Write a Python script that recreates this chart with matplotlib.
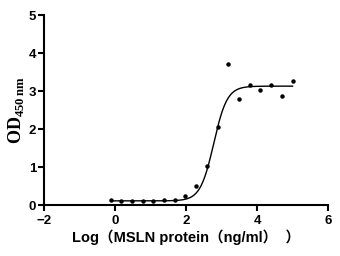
import numpy as np
import matplotlib
matplotlib.use("Agg")
import matplotlib.pyplot as plt

# measured points: log10 concentration vs OD450
log_conc = [-0.12, 0.18, 0.48, 0.78, 1.08, 1.38, 1.68, 1.98, 2.29, 2.59,
            2.89, 3.19, 3.49, 3.79, 4.09, 4.39, 4.70, 5.00]
od450 = [0.12, 0.11, 0.10, 0.10, 0.10, 0.12, 0.13, 0.24, 0.51, 1.02,
         2.06, 3.71, 2.80, 3.15, 3.03, 3.15, 2.88, 3.26]

# 4PL fit parameters
bottom = 0.11
top = 3.13
log_ec50 = 2.78
hill = 2.3

xticks = [-2, 0, 2, 4, 6]
yticks = [0, 1, 2, 3, 4, 5]

plt.rcParams["mathtext.fontset"] = "custom"
plt.rcParams["mathtext.rm"] = "Liberation Serif:bold"
plt.rcParams["mathtext.bf"] = "Liberation Serif:bold"

fig = plt.figure(figsize=(3.4, 2.56), dpi=100)
ax = fig.add_axes([0.129, 0.199, 0.836, 0.742])

xs = np.linspace(min(log_conc), max(log_conc), 300)
fit = bottom + (top - bottom) / (1 + 10 ** ((log_ec50 - xs) * hill))
ax.plot(xs, fit, color="black", lw=1.0)
ax.plot(log_conc, od450, "o", color="black", ms=3.2, mew=0)

ax.set_xlim(-2, 6)
ax.set_ylim(0, 5)
ax.set_xticks(xticks)
ax.set_yticks(yticks)
ax.spines["top"].set_visible(False)
ax.spines["right"].set_visible(False)
for s in ("left", "bottom"):
    ax.spines[s].set_linewidth(1.5)
ax.tick_params(width=1.5, length=4)
ax.tick_params(axis="x", pad=3)
ax.tick_params(axis="y", pad=1.5)
for lab in ax.get_xticklabels() + ax.get_yticklabels():
    lab.set_fontfamily("Liberation Sans")
    lab.set_fontweight("bold")
    lab.set_fontsize(9.5)

ax.set_ylabel(r"$\mathbf{OD}_{\mathbf{450\,nm}}$", fontsize=13, labelpad=2)
ax.set_xlabel("Log（MSLN protein（ng/ml）  ）",
              fontfamily=["Liberation Sans", "Noto Sans CJK SC"],
              fontweight="bold", fontsize=10.5, labelpad=2)

fig.savefig("out.png", dpi=100)
